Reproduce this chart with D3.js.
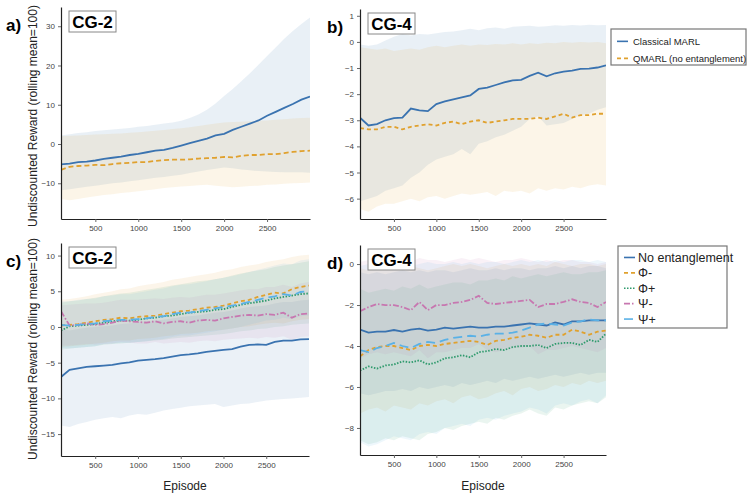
<!DOCTYPE html>
<html>
<head>
<meta charset="utf-8">
<script src="https://cdn.jsdelivr.net/npm/d3@7"></script>
<style>
  body { margin: 0; background: #fff; }
  svg { font-family: "Liberation Sans", Arial, Helvetica, sans-serif; }
  .tick text { fill: #444; font-size: 8px; }
  .tick line { stroke: #666; }
  .domain { stroke: #222; stroke-width: 1.2px; }
</style>
</head>
<body>
<div id="chart"></div>
<script>
// episodes (rolling mean of 100, sampled every 100 episodes)
var episodes = [100, 200, 300, 400, 500, 600, 700, 800, 900, 1000, 1100, 1200, 1300, 1400, 1500,
  1600, 1700, 1800, 1900, 2000, 2100, 2200, 2300, 2400, 2500, 2600, 2700, 2800, 2900, 3000];
var xTicks = [500, 1000, 1500, 2000, 2500];

// panel a: CG-2, classical vs QMARL
var classicalA = [-5.2, -5.0, -4.6, -4.5, -4.2, -3.8, -3.5, -3.2, -2.8, -2.5, -2.1, -1.7, -1.5, -1.0, -0.4,
  0.2, 0.8, 1.4, 2.2, 2.6, 3.6, 4.4, 5.2, 6.0, 7.2, 8.2, 9.2, 10.2, 11.3, 12.1];
var classicalUpA = [2.2, 2.5, 2.8, 3.0, 3.3, 3.5, 3.7, 3.9, 4.1, 4.4, 4.6, 4.9, 5.2, 5.5, 5.9,
  6.6, 7.5, 8.7, 10.3, 12.2, 14.0, 16.0, 18.0, 20.2, 22.4, 24.6, 26.8, 28.8, 30.6, 32.2];
var classicalLoA = [-11.8, -11.5, -11.2, -10.9, -10.6, -10.3, -10.0, -9.8, -9.5, -9.2, -8.9, -8.6, -8.4, -8.1, -7.8,
  -7.4, -7.0, -6.6, -6.3, -6.0, -6.2, -6.5, -6.7, -6.9, -7.0, -7.1, -7.2, -7.2, -7.2, -7.3];
var qmarlA = [-6.6, -5.8, -5.6, -5.5, -5.3, -5.4, -5.1, -4.9, -4.8, -4.6, -4.6, -4.3, -4.1, -4.0, -4.0,
  -3.9, -3.7, -3.6, -3.5, -3.3, -3.4, -3.0, -2.8, -2.8, -2.6, -2.6, -2.3, -2.0, -1.8, -1.7];
var qmarlUpA = [2.0, 2.1, 2.2, 2.3, 2.4, 2.5, 2.6, 2.7, 2.9, 3.0, 3.2, 3.4, 3.6, 3.8, 4.0,
  4.3, 4.6, 4.9, 5.2, 5.5, 5.6, 5.7, 5.8, 5.9, 6.0, 6.2, 6.3, 6.5, 6.6, 6.7];
var qmarlLoA = [-14.0, -14.3, -14.0, -13.6, -13.3, -13.0, -12.8, -12.5, -12.3, -12.0, -11.8, -11.5, -11.2, -11.0, -10.8,
  -10.7, -10.5, -10.4, -10.6, -10.8, -11.0, -10.9, -10.7, -10.6, -10.4, -10.3, -10.1, -10.0, -9.9, -9.8];

// panel b: CG-4, classical vs QMARL
var classicalB = [-2.9, -3.2, -3.15, -3.0, -2.92, -2.9, -2.55, -2.62, -2.65, -2.38, -2.28, -2.2, -2.12, -2.05, -1.8,
  -1.75, -1.65, -1.55, -1.47, -1.45, -1.3, -1.18, -1.32, -1.2, -1.14, -1.1, -1.03, -1.02, -0.98, -0.9];
var classicalUpB = [-0.1, -0.15, -0.1, 0.05, 0.2, 0.3, 0.25, 0.3, 0.28, 0.33, 0.38, 0.4, 0.45, 0.5, 0.45,
  0.52, 0.55, 0.5, 0.58, 0.6, 0.62, 0.58, 0.6, 0.64, 0.62, 0.65, 0.63, 0.66, 0.64, 0.65];
var classicalLoB = [-6.1, -6.0, -5.9, -5.7, -5.6, -5.5, -5.2, -5.0, -4.7, -4.5, -4.4, -4.3, -4.1, -4.3, -3.9,
  -3.8, -3.65, -3.55, -3.4, -3.25, -2.95, -2.85, -3.2, -3.15, -3.1, -2.95, -2.8, -2.75, -2.6, -2.5];
var qmarlB = [-3.3, -3.35, -3.35, -3.25, -3.25, -3.35, -3.25, -3.2, -3.15, -3.2, -3.1, -3.05, -3.15, -3.05, -3.0,
  -3.1, -3.05, -3.0, -2.95, -2.95, -2.95, -2.9, -2.95, -2.85, -2.75, -2.9, -2.8, -2.8, -2.75, -2.75];
var qmarlUpB = [-0.2, -0.25, -0.3, -0.25, -0.35, -0.3, -0.25, -0.3, -0.2, -0.15, -0.2, -0.15, -0.1, -0.15, -0.1,
  -0.12, -0.08, -0.1, -0.05, -0.1, -0.05, -0.08, -0.03, -0.05, 0.0, -0.03, 0.0, -0.02, 0.0, -0.05];
var qmarlLoB = [-6.4, -6.5, -6.3, -6.2, -6.2, -6.1, -6.0, -6.1, -5.95, -5.9, -6.0, -5.9, -5.8, -5.85, -5.8,
  -5.75, -5.9, -5.7, -5.75, -5.7, -5.8, -5.6, -5.7, -5.6, -5.65, -5.55, -5.6, -5.5, -5.45, -5.5];

// panel c: CG-2, entanglement variants
var noEntC = [-7.0, -6.0, -5.8, -5.6, -5.5, -5.4, -5.3, -5.1, -4.95, -4.7, -4.6, -4.5, -4.35, -4.15, -3.95,
  -3.85, -3.7, -3.5, -3.35, -3.2, -3.1, -2.75, -2.5, -2.45, -2.5, -2.1, -1.9, -1.9, -1.75, -1.7];
var noEntUpC = [-0.3, -0.5, -0.3, -0.1, 0.0, 0.1, 0.2, 0.4, 0.5, 0.7, 0.8, 0.9, 1.0, 1.2, 1.4,
  1.5, 1.6, 1.8, 2.0, 2.1, 2.3, 2.6, 2.8, 2.9, 3.0, 3.3, 3.5, 3.5, 3.7, 3.8];
var noEntLoC = [-13.8, -14.0, -13.6, -13.3, -13.0, -12.8, -12.6, -12.8, -12.4, -12.2, -12.3, -12.0, -11.7, -11.5, -11.3,
  -11.1, -11.0, -10.9, -10.8, -11.2, -11.0, -10.8, -10.7, -10.5, -10.3, -10.2, -10.1, -10.0, -9.9, -9.8];
var phiMinusC = [0.2, 0.3, 0.4, 0.6, 0.8, 1.0, 1.1, 1.3, 1.2, 1.4, 1.5, 1.6, 1.8, 2.0, 2.2,
  2.3, 2.5, 2.7, 2.8, 3.0, 3.3, 3.6, 3.8, 4.2, 4.5, 4.8, 4.7, 5.3, 5.6, 5.8];
var phiMinusUpC = [3.8, 3.9, 4.1, 4.3, 4.6, 4.8, 5.0, 5.3, 5.4, 5.7, 5.9, 6.1, 6.3, 6.6, 6.8,
  7.0, 7.2, 7.4, 7.6, 7.9, 8.1, 8.4, 8.6, 8.8, 9.1, 9.3, 9.5, 9.8, 10.0, 10.1];
var phiMinusLoC = [-2.8, -2.7, -2.6, -2.5, -2.3, -2.2, -2.0, -1.9, -1.9, -1.7, -1.6, -1.5, -1.3, -1.2, -1.0,
  -0.9, -0.8, -0.6, -0.5, -0.4, -0.2, 0.0, 0.1, 0.3, 0.5, 0.6, 0.5, 0.8, 1.0, 1.1];
var phiPlusC = [-0.5, 0.1, 0.2, 0.3, 0.4, 0.6, 0.8, 0.9, 0.9, 1.0, 1.2, 1.3, 1.5, 1.6, 1.8,
  2.0, 2.1, 2.2, 2.4, 2.5, 2.8, 3.1, 3.3, 3.5, 3.7, 4.0, 4.2, 4.4, 4.6, 4.7];
var phiPlusUpC = [3.4, 3.6, 3.7, 3.9, 4.1, 4.3, 4.5, 4.7, 4.8, 5.0, 5.2, 5.4, 5.6, 5.8, 6.0,
  6.2, 6.4, 6.5, 6.7, 6.9, 7.2, 7.5, 7.7, 7.9, 8.1, 8.4, 8.6, 8.8, 9.0, 9.2];
var phiPlusLoC = [-3.2, -3.0, -2.9, -2.8, -2.7, -2.5, -2.4, -2.3, -2.2, -2.1, -2.0, -1.9, -1.8, -1.6, -1.5,
  -1.4, -1.3, -1.2, -1.1, -1.0, -0.8, -0.6, -0.5, -0.3, -0.2, 0.0, 0.1, 0.3, 0.4, 0.5];
var psiMinusC = [2.2, 0.2, 0.3, 0.5, 0.3, 0.4, 0.6, 0.9, 0.8, 0.7, 0.6, 0.8, 0.5, 0.7, 0.8,
  0.6, 0.9, 1.0, 0.9, 1.2, 1.4, 1.6, 1.7, 1.6, 1.8, 1.7, 2.0, 1.3, 1.8, 1.9];
var psiMinusUpC = [3.0, 3.1, 3.2, 3.3, 3.3, 3.4, 3.6, 3.8, 3.8, 3.8, 3.9, 4.0, 3.9, 4.1, 4.2,
  4.1, 4.3, 4.5, 4.5, 4.7, 4.9, 5.1, 5.3, 5.3, 5.6, 5.6, 5.9, 5.6, 6.1, 6.3];
var psiMinusLoC = [-2.6, -2.6, -2.5, -2.4, -2.5, -2.4, -2.3, -2.1, -2.2, -2.3, -2.3, -2.1, -2.3, -2.2, -2.1,
  -2.2, -2.0, -1.9, -2.0, -1.8, -1.7, -1.6, -1.5, -1.6, -1.4, -1.5, -1.3, -1.8, -1.4, -1.3];
var psiPlusC = [0.3, 0.2, 0.3, 0.4, 0.5, 0.8, 0.9, 1.0, 1.0, 1.1, 1.2, 1.4, 1.5, 1.8, 2.0,
  2.0, 2.2, 2.4, 2.6, 2.8, 3.0, 3.2, 3.5, 3.8, 4.1, 4.3, 4.6, 4.4, 4.9, 5.0];
var psiPlusUpC = [3.6, 3.6, 3.8, 3.9, 4.0, 4.3, 4.4, 4.6, 4.6, 4.8, 5.0, 5.2, 5.4, 5.7, 5.9,
  6.0, 6.2, 6.4, 6.7, 6.9, 7.1, 7.4, 7.7, 8.0, 8.3, 8.6, 8.9, 8.8, 9.3, 9.5];
var psiPlusLoC = [-2.9, -3.0, -2.9, -2.8, -2.7, -2.4, -2.3, -2.2, -2.2, -2.1, -2.0, -1.8, -1.7, -1.4, -1.2,
  -1.2, -1.0, -0.8, -0.6, -0.4, -0.2, 0.0, 0.3, 0.6, 0.9, 1.0, 1.3, 1.1, 1.5, 1.6];

// panel d: CG-4, entanglement variants
var noEntD = [-3.2, -3.35, -3.3, -3.3, -3.22, -3.3, -3.2, -3.15, -3.25, -3.2, -3.1, -3.15, -3.1, -3.05, -3.1,
  -3.1, -3.05, -3.05, -3.0, -2.95, -2.9, -2.95, -3.0, -2.85, -2.95, -2.8, -2.8, -2.75, -2.75, -2.75];
var noEntUpD = [-0.4, -0.5, -0.4, -0.5, -0.4, -0.3, -0.4, -0.3, -0.4, -0.3, -0.3, -0.4, -0.3, -0.2, -0.3,
  -0.3, -0.2, -0.3, -0.2, -0.2, -0.3, -0.2, -0.2, -0.1, -0.2, -0.1, -0.2, -0.1, -0.1, -0.2];
var noEntLoD = [-6.3, -6.4, -6.3, -6.2, -6.2, -6.1, -6.2, -6.0, -6.1, -6.0, -5.9, -6.0, -5.8, -5.9, -5.8,
  -5.7, -5.8, -5.6, -5.7, -5.6, -5.5, -5.6, -5.5, -5.4, -5.5, -5.4, -5.3, -5.4, -5.3, -5.3];
var phiMinusD = [-4.5, -4.2, -4.05, -4.0, -4.0, -4.1, -4.2, -4.0, -3.95, -4.0, -3.9, -3.85, -3.8, -3.75, -3.8,
  -3.95, -3.75, -3.7, -3.6, -3.55, -3.45, -3.5, -3.6, -3.45, -3.45, -3.2, -3.3, -3.45, -3.3, -3.25];
var phiMinusUpD = [-0.2, -0.3, -0.1, -0.2, -0.3, -0.2, -0.1, -0.2, -0.3, -0.2, -0.1, 0.0, -0.1, 0.0, -0.1,
  -0.2, -0.1, 0.0, -0.1, 0.0, -0.1, 0.0, -0.1, 0.1, 0.0, -0.1, 0.0, 0.0, -0.1, 0.0];
var phiMinusLoD = [-7.3, -7.1, -7.0, -7.2, -6.9, -7.0, -7.1, -6.8, -6.9, -6.7, -6.6, -6.8, -6.5, -6.4, -6.6,
  -6.5, -6.3, -6.2, -6.4, -6.1, -6.0, -6.2, -6.1, -5.9, -6.0, -5.8, -5.9, -5.7, -5.8, -5.7];
var phiPlusD = [-5.2, -5.0, -5.1, -4.95, -4.9, -4.75, -4.8, -4.7, -4.9, -4.8, -4.6, -4.55, -4.45, -4.55, -4.3,
  -4.25, -4.15, -4.2, -4.05, -4.0, -4.0, -3.95, -4.1, -3.9, -3.85, -3.85, -3.95, -3.7, -3.8, -3.4];
var phiPlusUpD = [-1.2, -1.4, -1.3, -1.2, -1.3, -1.1, -1.2, -1.0, -1.2, -1.1, -1.0, -0.9, -0.9, -1.0, -0.8,
  -0.8, -0.7, -0.8, -0.6, -0.7, -0.6, -0.5, -0.6, -0.5, -0.4, -0.5, -0.5, -0.4, -0.4, -0.3];
var phiPlusLoD = [-8.6, -8.8, -8.7, -8.5, -8.6, -8.4, -8.5, -8.6, -8.3, -8.2, -8.0, -8.1, -7.9, -7.8, -7.7,
  -7.8, -7.5, -7.6, -7.4, -7.3, -7.1, -7.3, -7.4, -7.0, -7.1, -6.9, -6.8, -6.7, -6.8, -6.5];
var psiMinusD = [-2.3, -2.1, -1.95, -2.0, -2.0, -2.1, -2.25, -1.85, -2.25, -2.0, -2.0, -1.9, -1.85, -1.75, -1.55,
  -1.9, -1.95, -1.9, -1.85, -1.8, -1.75, -2.1, -1.95, -1.95, -1.85, -1.72, -1.85, -1.9, -2.1, -1.85];
var psiMinusUpD = [0.1, 0.2, 0.1, 0.2, 0.3, 0.2, 0.1, 0.3, 0.2, 0.2, 0.1, 0.2, 0.3, 0.2, 0.3,
  0.2, 0.1, 0.2, 0.2, 0.3, 0.2, 0.1, 0.2, 0.1, 0.2, 0.2, 0.1, 0.1, 0.0, 0.1];
var psiMinusLoD = [-4.6, -4.4, -4.3, -4.4, -4.3, -4.4, -4.5, -4.2, -4.6, -4.3, -4.3, -4.2, -4.1, -4.1, -3.9,
  -4.2, -4.3, -4.2, -4.1, -4.1, -4.0, -4.4, -4.2, -4.2, -4.1, -4.0, -4.1, -4.2, -4.3, -4.1];
var psiPlusD = [-4.2, -4.3, -4.1, -4.0, -3.85, -4.0, -4.1, -3.9, -3.8, -3.85, -3.7, -3.6, -3.55, -3.5, -3.55,
  -3.45, -3.4, -3.4, -3.35, -3.25, -3.1, -2.95, -2.9, -2.95, -3.0, -2.85, -2.8, -2.7, -2.75, -2.75];
var psiPlusUpD = [-0.1, 0.0, -0.1, -0.2, -0.1, 0.0, -0.1, 0.0, 0.1, 0.0, 0.0, 0.1, 0.0, 0.1, 0.0,
  0.1, 0.1, 0.0, 0.1, 0.2, 0.1, 0.2, 0.1, 0.2, 0.1, 0.2, 0.2, 0.1, 0.2, 0.1];
var psiPlusLoD = [-8.7, -8.9, -8.8, -8.6, -8.4, -8.5, -8.6, -8.3, -8.2, -8.3, -8.0, -7.9, -7.8, -7.9, -7.6,
  -7.5, -7.6, -7.4, -7.3, -7.2, -7.0, -7.1, -7.3, -6.9, -6.8, -6.9, -6.7, -6.6, -6.8, -6.4];

var yTicksA = [-10, 0, 10, 20, 30];
var yTicksB = [-6, -5, -4, -3, -2, -1, 0, 1];
var yTicksC = [-15, -10, -5, 0, 5, 10];
var yTicksD = [-8, -6, -4, -2, 0];

var cBlue = "#3a73b0", cOrange = "#e0a12e", cGreen = "#2e9a6c", cPink = "#c777b0", cLight = "#5ab1e6";

var width = 753, height = 500;
var svg = d3.select("#chart").append("svg").attr("width", width).attr("height", height);

function drawPanel(p) {
    var x = d3.scaleLinear().domain([100, 3000]).range([p.left, p.right]);
    var y = d3.scaleLinear().domain(p.yDomain).range([p.bottom, p.top]);
    var g = svg.append("g");

    var clipId = "clip" + p.letter;
    svg.append("clipPath").attr("id", clipId).append("rect")
        .attr("x", p.left).attr("y", p.top).attr("width", p.right - p.left).attr("height", p.bottom - p.top);

    var bands = g.append("g").attr("clip-path", "url(#" + clipId + ")");
    p.series.forEach(function (s) {
        var area = d3.area()
            .x(function (d, i) { return x(episodes[i]); })
            .y0(function (d, i) { return y(s.lo[i]); })
            .y1(function (d, i) { return y(s.up[i]); });
        bands.append("path").datum(s.mean).attr("d", area)
            .attr("fill", s.color).attr("fill-opacity", p.bandOpacity);
    });
    p.series.forEach(function (s) {
        var line = d3.line()
            .x(function (d, i) { return x(episodes[i]); })
            .y(function (d) { return y(d); });
        bands.append("path").datum(s.mean).attr("d", line)
            .attr("fill", "none").attr("stroke", s.color).attr("stroke-width", 1.8)
            .attr("stroke-dasharray", s.dash || null);
    });

    g.append("g").attr("transform", "translate(0," + p.bottom + ")")
        .call(d3.axisBottom(x).tickValues(xTicks).tickSize(3).tickSizeOuter(0).tickFormat(d3.format("d")));
    g.append("g").attr("transform", "translate(" + p.left + ",0)")
        .call(d3.axisLeft(y).tickValues(p.yTicks).tickSize(3).tickSizeOuter(0));

    // panel letter
    svg.append("text").attr("x", p.labelX).attr("y", p.top + 24)
        .attr("font-size", 17).attr("font-weight", "bold").text(p.letter + ")");

    // title box
    var tb = svg.append("g").attr("transform", "translate(" + (p.left + 8) + "," + (p.top + 4) + ")");
    tb.append("rect").attr("width", 47).attr("height", 21).attr("fill", "#fff")
        .attr("stroke", "#888").attr("stroke-width", 1);
    tb.append("text").attr("x", 23.5).attr("y", 17).attr("text-anchor", "middle")
        .attr("font-size", 17).attr("font-weight", "bold").text(p.title);
}

function drawLegend(x0, y0, w, h, items, fontSize, rowH, textX) {
    var lg = svg.append("g").attr("transform", "translate(" + x0 + "," + y0 + ")");
    lg.append("rect").attr("width", w).attr("height", h).attr("fill", "#fff")
        .attr("stroke", "#777").attr("stroke-width", 1.2);
    items.forEach(function (it, i) {
        var cy = rowH * 0.55 + i * rowH + 3;
        lg.append("line").attr("x1", 6).attr("x2", 17).attr("y1", cy).attr("y2", cy)
            .attr("stroke", it.color).attr("stroke-width", 1.6).attr("stroke-dasharray", it.dash || null);
        lg.append("text").attr("x", textX).attr("y", cy + fontSize * 0.36)
            .attr("font-size", fontSize).attr("fill", "#222").text(it.name);
    });
}

var dashPhiMinus = "4,3", dashPhiPlus = "1.5,1.5", dashPsiMinus = "6,2,1.5,2", dashPsiPlus = "9,5";

drawPanel({
    letter: "a", title: "CG-2", left: 61, right: 310, top: 7, bottom: 219, labelX: 6,
    yDomain: [-19.1, 34.9], yTicks: yTicksA, bandOpacity: 0.11,
    series: [
        { mean: classicalA, up: classicalUpA, lo: classicalLoA, color: cBlue },
        { mean: qmarlA, up: qmarlUpA, lo: qmarlLoA, color: cOrange, dash: "5,3" }
    ]
});
drawPanel({
    letter: "b", title: "CG-4", left: 360, right: 606, top: 9, bottom: 219, labelX: 327,
    yDomain: [-6.78, 1.26], yTicks: yTicksB, bandOpacity: 0.11,
    series: [
        { mean: classicalB, up: classicalUpB, lo: classicalLoB, color: cBlue },
        { mean: qmarlB, up: qmarlUpB, lo: qmarlLoB, color: cOrange, dash: "4,3" }
    ]
});
drawPanel({
    letter: "c", title: "CG-2", left: 61, right: 309, top: 243, bottom: 456, labelX: 6,
    yDomain: [-18.07, 11.76], yTicks: yTicksC, bandOpacity: 0.1,
    series: [
        { mean: noEntC, up: noEntUpC, lo: noEntLoC, color: cBlue },
        { mean: phiMinusC, up: phiMinusUpC, lo: phiMinusLoC, color: cOrange, dash: dashPhiMinus },
        { mean: phiPlusC, up: phiPlusUpC, lo: phiPlusLoC, color: cGreen, dash: dashPhiPlus },
        { mean: psiMinusC, up: psiMinusUpC, lo: psiMinusLoC, color: cPink, dash: dashPsiMinus },
        { mean: psiPlusC, up: psiPlusUpC, lo: psiPlusLoC, color: cLight, dash: dashPsiPlus }
    ]
});
drawPanel({
    letter: "d", title: "CG-4", left: 360, right: 606, top: 245, bottom: 455, labelX: 327,
    yDomain: [-9.32, 0.93], yTicks: yTicksD, bandOpacity: 0.1,
    series: [
        { mean: noEntD, up: noEntUpD, lo: noEntLoD, color: cBlue },
        { mean: phiMinusD, up: phiMinusUpD, lo: phiMinusLoD, color: cOrange, dash: dashPhiMinus },
        { mean: phiPlusD, up: phiPlusUpD, lo: phiPlusLoD, color: cGreen, dash: dashPhiPlus },
        { mean: psiMinusD, up: psiMinusUpD, lo: psiMinusLoD, color: cPink, dash: dashPsiMinus },
        { mean: psiPlusD, up: psiPlusUpD, lo: psiPlusLoD, color: cLight, dash: dashPsiPlus }
    ]
});

// y axis titles
[116, 349].forEach(function (cy) {
    svg.append("text").attr("transform", "translate(37," + cy + ") rotate(-90)")
        .attr("text-anchor", "middle").attr("font-size", 12).attr("fill", "#222")
        .text("Undiscounted Reward (rolling mean=100)");
});
// x axis titles
[185, 483].forEach(function (cx) {
    svg.append("text").attr("x", cx).attr("y", 490).attr("text-anchor", "middle")
        .attr("font-size", 12).attr("fill", "#222").text("Episode");
});

drawLegend(611, 29, 135, 36, [
    { name: "Classical MARL", color: cBlue },
    { name: "QMARL (no entanglement)", color: cOrange, dash: "4,3" }
], 9.5, 17, 22);

drawLegend(618, 246, 109, 82, [
    { name: "No entanglement", color: cBlue },
    { name: "Φ-", color: cOrange, dash: dashPhiMinus },
    { name: "Φ+", color: cGreen, dash: dashPhiPlus },
    { name: "Ψ-", color: cPink, dash: dashPsiMinus },
    { name: "Ψ+", color: cLight, dash: dashPsiPlus }
], 12.5, 15.4, 20);
</script>
</body>
</html>
